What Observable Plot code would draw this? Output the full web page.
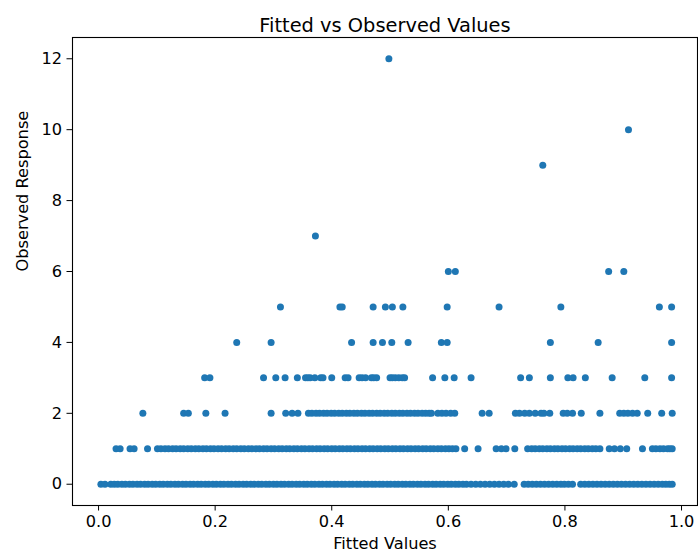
<!DOCTYPE html>
<html>
<head>
<meta charset="utf-8">
<script src="https://cdn.jsdelivr.net/npm/d3@7"></script>
<script src="https://cdn.jsdelivr.net/npm/@observablehq/plot@0.6"></script>
<style>
  html, body { margin: 0; padding: 0; background: #fff; }
  #chart svg { display: block; }
</style>
</head>
<body>
<div id="chart"></div>
<script>
const obs0 = [0.004, 0.011,
  0.021, 0.027, 0.033, 0.040, 0.046, 0.053, 0.059, 0.066, 0.072, 0.079, 0.085, 0.092, 0.098, 0.105, 0.111, 0.118, 0.124, 0.131,
  0.137, 0.144, 0.150, 0.157, 0.163, 0.170, 0.176, 0.183, 0.189, 0.196, 0.202, 0.209, 0.215, 0.222, 0.228, 0.235, 0.241, 0.248,
  0.254, 0.261, 0.267, 0.274, 0.280, 0.287, 0.293, 0.300, 0.306, 0.313, 0.319, 0.326, 0.332, 0.339, 0.345, 0.352, 0.358, 0.365,
  0.371, 0.378, 0.384, 0.391, 0.397, 0.404, 0.410, 0.417, 0.423, 0.430, 0.436, 0.443, 0.449, 0.456, 0.462, 0.469, 0.475, 0.482,
  0.488, 0.495, 0.501, 0.508, 0.514, 0.521, 0.527, 0.534, 0.540, 0.547, 0.553, 0.560, 0.566, 0.573, 0.579, 0.586, 0.592, 0.599,
  0.605, 0.612, 0.618, 0.625, 0.631, 0.639, 0.647, 0.655, 0.663, 0.671, 0.679, 0.687, 0.695, 0.703, 0.713,
  0.730, 0.737, 0.744, 0.751, 0.758, 0.765, 0.772, 0.779, 0.786, 0.793, 0.799, 0.806, 0.813,
  0.827, 0.834, 0.841, 0.848, 0.855, 0.862, 0.869, 0.876, 0.883, 0.890, 0.897, 0.904, 0.911, 0.918, 0.925, 0.932, 0.939, 0.946,
  0.953, 0.960, 0.967, 0.973, 0.979, 0.984];
const obs1 = [0.030, 0.037, 0.054, 0.061, 0.084,
  0.101, 0.107, 0.114, 0.120, 0.127, 0.133, 0.140, 0.146, 0.153, 0.159, 0.166, 0.172, 0.179, 0.185, 0.192, 0.198, 0.205, 0.211,
  0.218, 0.224, 0.231, 0.237, 0.244, 0.250, 0.257, 0.263, 0.270, 0.276, 0.283, 0.289, 0.296, 0.302, 0.309, 0.315, 0.322, 0.328,
  0.335, 0.341, 0.348, 0.354, 0.361, 0.367, 0.374, 0.380, 0.387, 0.393, 0.400, 0.406, 0.413, 0.419, 0.426, 0.432, 0.439, 0.445,
  0.452, 0.458, 0.465, 0.471, 0.478, 0.484, 0.491, 0.497, 0.504, 0.510, 0.517, 0.523, 0.530, 0.536, 0.543, 0.549, 0.556, 0.562,
  0.569, 0.575, 0.582, 0.588, 0.595, 0.601, 0.607, 0.613,
  0.628, 0.651, 0.682, 0.691, 0.699, 0.714,
  0.736, 0.743, 0.749, 0.756, 0.762, 0.769, 0.775, 0.782, 0.788, 0.795, 0.801, 0.808, 0.814, 0.821, 0.827, 0.834, 0.840, 0.847,
  0.853, 0.860,
  0.876, 0.885, 0.895, 0.906, 0.933,
  0.950, 0.956, 0.963, 0.969, 0.976, 0.980, 0.984];
const obs2 = [0.076, 0.146, 0.154, 0.184, 0.217, 0.296, 0.321, 0.332, 0.342,
  0.360, 0.366, 0.373, 0.379, 0.386, 0.392, 0.399, 0.405, 0.412, 0.418, 0.425, 0.431, 0.438, 0.444, 0.451, 0.457, 0.464, 0.470,
  0.477, 0.483, 0.490, 0.496, 0.503, 0.509, 0.516, 0.522, 0.529, 0.535, 0.542, 0.548, 0.555, 0.561, 0.567, 0.571,
  0.582, 0.589, 0.596, 0.604, 0.611, 0.658, 0.670, 0.715, 0.722, 0.731, 0.739, 0.749, 0.759, 0.764, 0.774, 0.797, 0.804, 0.813,
  0.828, 0.860, 0.894, 0.901, 0.908, 0.916, 0.924, 0.942, 0.966, 0.984];
const obs3 = [0.182, 0.191, 0.283, 0.304, 0.320, 0.341, 0.355, 0.359, 0.363, 0.371, 0.381, 0.385, 0.400, 0.423, 0.428, 0.447,
  0.452, 0.458, 0.468, 0.472, 0.477, 0.500, 0.504, 0.509, 0.515, 0.521, 0.525, 0.573, 0.594, 0.610, 0.639, 0.724, 0.739, 0.775,
  0.805, 0.814, 0.835, 0.881, 0.937, 0.983];
const obs4 = [0.237, 0.296, 0.434, 0.471, 0.487, 0.503, 0.531, 0.588, 0.598, 0.775, 0.857, 0.983];
const obs5 = [0.312, 0.414, 0.418, 0.471, 0.492, 0.504, 0.522, 0.598, 0.687, 0.793, 0.962, 0.983];
const obs6 = [0.600, 0.612, 0.875, 0.901];
const obs7 = [0.372];
const obs9 = [0.762];
const obs10 = [0.909];
const obs12 = [0.498];

const xTicks = [0.0, 0.2, 0.4, 0.6, 0.8, 1.0];
const yTicks = [0, 2, 4, 6, 8, 10, 12];

const groups = [[0, obs0], [1, obs1], [2, obs2], [3, obs3], [4, obs4], [5, obs5], [6, obs6], [7, obs7], [9, obs9], [10, obs10], [12, obs12]];
const points = groups.flatMap(([y, xs]) => xs.map(x => ({fitted: x, observed: y})));

const chart = Plot.plot({
  width: 698,
  height: 560,
  marginLeft: 72,
  marginRight: 1,
  marginTop: 37,
  marginBottom: 55,
  style: {fontFamily: "DejaVu Sans", background: "#fff", color: "#000"},
  x: {domain: [-0.0447, 1.0274]},
  y: {domain: [-0.6, 12.6]},
  marks: [
    Plot.dot(points, {x: "fitted", y: "observed", r: 3.5, fill: "#1f77b4", stroke: null}),
    Plot.frame({stroke: "#000", strokeWidth: 1.1}),
    Plot.axisX(xTicks, {tickSize: 5.5, tickPadding: 4, fontSize: 16.2, tickFormat: d3.format(".1f"), label: null, stroke: "#000", fill: "#000"}),
    Plot.axisY(yTicks, {tickSize: 5.5, tickPadding: 5, fontSize: 16.2, tickFormat: d => String(d), label: null, stroke: "#000", fill: "#000"}),
    Plot.text(["Fitted vs Observed Values"], {frameAnchor: "top", dy: -19, fontSize: 19.4, fill: "#000"}),
    Plot.text(["Fitted Values"], {frameAnchor: "bottom", dy: 43, fontSize: 16.2, fill: "#000"}),
    Plot.text(["Observed Response"], {frameAnchor: "left", dx: -50, rotate: -90, fontSize: 16.2, fill: "#000"})
  ]
});
document.getElementById("chart").appendChild(chart);
</script>
</body>
</html>
